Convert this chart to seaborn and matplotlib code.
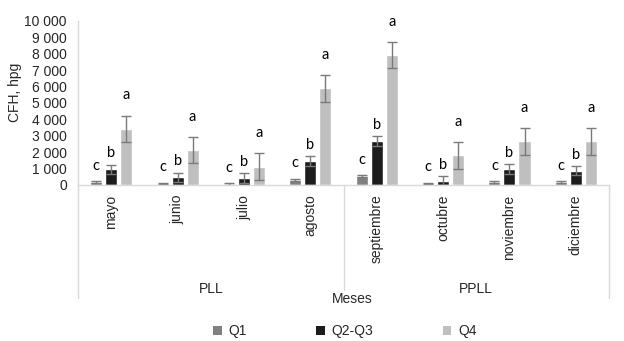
import matplotlib
matplotlib.use("Agg")
import matplotlib.pyplot as plt
import matplotlib.transforms as mtransforms
from matplotlib.patches import Patch
from matplotlib.ticker import FuncFormatter
import pandas as pd
import seaborn as sns

# datos (CFH, hpg)
meses = ['mayo', 'junio', 'julio', 'agosto', 'septiembre', 'octubre', 'noviembre', 'diciembre']
grupos = ['Q1', 'Q2-Q3', 'Q4']
q1 = [170, 90, 80, 310, 560, 90, 180, 160]
q1_err = [60, 50, 50, 80, 60, 50, 60, 60]
q23 = [955, 470, 420, 1460, 2660, 265, 975, 875]
q23_err = [285, 285, 300, 290, 300, 265, 285, 265]
q4 = [3415, 2130, 1120, 5890, 7930, 1810, 2660, 2660]
q4_err = [815, 800, 830, 820, 810, 810, 810, 810]
letras = ['c', 'b', 'a']
periodos = ['PLL', 'PPLL']

colores = ['#808080', '#1c1c1c', '#bfbfbf']

df = pd.DataFrame({
    'mes': meses * 3,
    'grupo': [g for g in grupos for _ in meses],
    'cfh': q1 + q23 + q4,
})
errores = {'Q1': q1_err, 'Q2-Q3': q23_err, 'Q4': q4_err}
valores = {'Q1': q1, 'Q2-Q3': q23, 'Q4': q4}

sns.set_style('white')
plt.rcParams['font.family'] = ['Liberation Sans', 'DejaVu Sans']

fig = plt.figure(figsize=(6.24, 3.41), dpi=100)
ax = fig.add_axes([0.125, 0.4575, 0.851, 0.481])

sns.barplot(data=df, x='mes', y='cfh', hue='grupo', order=meses, hue_order=grupos,
            palette=colores, errorbar=None, width=0.68, gap=0.2, legend=False,
            saturation=1, ax=ax)

# barras de error y letras
for i, g in enumerate(grupos):
    cont = ax.containers[i]
    xs = [p.get_x() + p.get_width() / 2 for p in cont.patches]
    ax.errorbar(xs, valores[g], yerr=errores[g], fmt='none', ecolor='#7a7a7a',
                elinewidth=1, capsize=3.5, capthick=1)
    desplaz = {'Q1': 500, 'Q2-Q3': 270, 'Q4': 800}[g]
    for x, v, e in zip(xs, valores[g], errores[g]):
        ax.text(x, v + e + desplaz, letras[i], ha='center', va='bottom',
                fontsize=10.5, family=['Lato', 'DejaVu Sans'], color='black')

ax.set_ylim(0, 10000)
ax.set_xlim(-0.5, len(meses) - 0.5)
ax.set_yticks(range(0, 10001, 1000))
ax.yaxis.set_major_formatter(FuncFormatter(lambda v, p: f"{int(v):,}".replace(',', ' ')))
ax.tick_params(axis='y', length=0, pad=8, labelsize=10)
ax.tick_params(axis='x', length=0, pad=7, labelsize=10)
ax.set_xticks(range(len(meses)))
ax.set_xticklabels(meses, rotation=90, va='top')
ax.set_xlabel('')
ax.set_ylabel('')

for s in ['top', 'right']:
    ax.spines[s].set_visible(False)
for s in ['left', 'bottom']:
    ax.spines[s].set_color('#d9d9d9')
    ax.spines[s].set_linewidth(1)

# líneas de categorías bajo el eje
trans = mtransforms.blended_transform_factory(ax.transData, fig.transFigure)
y0 = 0.4575
for xl, yb in [(-0.5, 0.126), (3.5, 0.15), (7.5, 0.126)]:
    ax.plot([xl, xl], [y0, yb], color='#d9d9d9', lw=1, transform=trans, clip_on=False)

ax.text(1.5, 1 - 289 / 341, periodos[0], transform=trans, ha='center', va='center', fontsize=10)
ax.text(5.5, 1 - 289 / 341, periodos[1], transform=trans, ha='center', va='center', fontsize=10)
fig.text(352 / 624, 1 - 299 / 341, 'Meses', ha='center', va='center', fontsize=10)
fig.text(15 / 624, 1 - 92 / 341, 'CFH, hpg', rotation=90, ha='center', va='center', fontsize=10)

handles = [Patch(facecolor=c, edgecolor='none', label=g) for c, g in zip(colores, grupos)]
fig.legend(handles=handles, loc='center', bbox_to_anchor=(345 / 624, 1 - 331 / 341), ncol=3,
           frameon=False, fontsize=10, handlelength=0.6, handleheight=0.6,
           handletextpad=0.5, columnspacing=5.0)

fig.savefig('out.png', dpi=100)
